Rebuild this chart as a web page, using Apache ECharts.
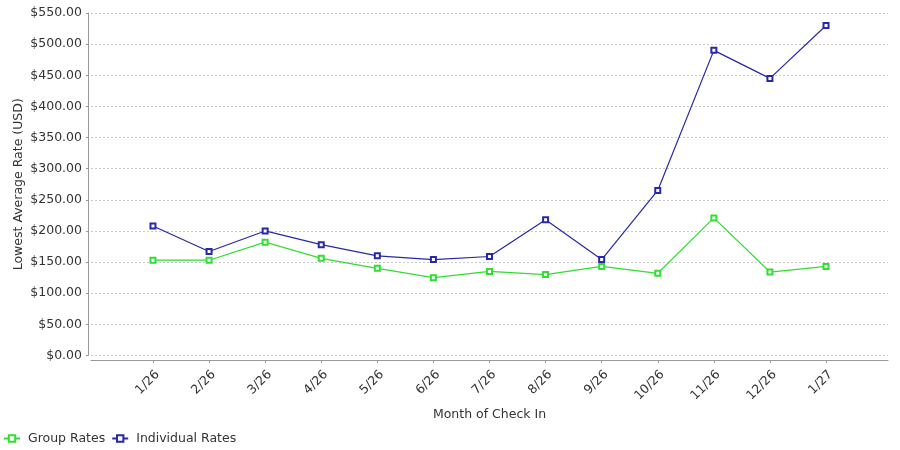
<!DOCTYPE html>
<html>
<head>
<meta charset="utf-8">
<title>Lowest Average Rate</title>
<script src="https://cdn.jsdelivr.net/npm/echarts@6/dist/echarts.min.js"></script>
<style>
  html, body { margin: 0; padding: 0; background: #fff; }
  #chart { width: 900px; height: 450px; }
</style>
</head>
<body>
<div id="chart"></div>
<script>
// values
var months = ['1/26', '2/26', '3/26', '4/26', '5/26', '6/26', '7/26',
              '8/26', '9/26', '10/26', '11/26', '12/26', '1/27'];
var groupRates = [153, 153, 182, 156, 140, 125, 135, 130, 143, 132, 221, 134, 143];
var individualRates = [208, 167, 200, 178, 160, 154, 159, 218, 154, 265, 490, 445, 530];
var yTicks = [0, 550, 50]; // min, max, step

var FONT = '"DejaVu Sans", sans-serif';
var TEXT = '#333';
var PAD = 1.105; // empty space each side of the categories (in category units)

function toPoints(values) {
    return values.map(function(v, i){ return [i, v]; });
}

var idx = months.map(function(m, i){ return i; });

var chart = echarts.init(document.getElementById('chart'), null, { renderer: 'canvas' });

chart.setOption({
    animation: false,
    grid: { left: 91, right: 12, top: 13, bottom: 94.5, containLabel: false },
    legend: {
        left: 3,
        top: 432,
        padding: 0,
        itemWidth: 16,
        itemHeight: 8,
        itemGap: 6,
        textStyle: { fontFamily: FONT, fontSize: 12.5, color: TEXT, padding: [0, 0, 0, 3] },
        data: ['Group Rates', 'Individual Rates']
    },
    xAxis: {
        type: 'value',
        min: -PAD,
        max: months.length - 1 + PAD,
        offset: 4.5,
        name: 'Month of Check In',
        nameLocation: 'middle',
        nameGap: 48,
        nameMoveOverlap: false,
        nameTextStyle: { fontFamily: FONT, fontSize: 12.5, color: TEXT },
        axisLine: { show: true, onZero: false, lineStyle: { color: '#999' } },
        axisTick: { show: true, length: 3, customValues: idx, lineStyle: { color: '#999' } },
        axisLabel: {
            customValues: idx,
            rotate: 45,
            margin: 8,
            verticalAlign: 'top',
            fontFamily: FONT,
            fontSize: 12.5,
            color: TEXT,
            formatter: function(v){ return months[Math.round(v)]; }
        },
        splitLine: { show: false }
    },
    yAxis: {
        type: 'value',
        min: yTicks[0],
        max: yTicks[1],
        interval: yTicks[2],
        offset: 3,
        name: 'Lowest Average Rate (USD)',
        nameLocation: 'middle',
        nameGap: 63,
        nameMoveOverlap: false,
        nameTextStyle: { fontFamily: FONT, fontSize: 12.5, color: TEXT },
        axisLine: { show: true, onZero: false, lineStyle: { color: '#999' } },
        axisTick: { show: true, length: 2, lineStyle: { color: '#999' } },
        axisLabel: {
            margin: 6,
            fontFamily: FONT,
            fontSize: 12.5,
            color: TEXT,
            formatter: function(v){ return '$' + v.toFixed(2); }
        },
        splitLine: { show: true, lineStyle: { color: '#c8c8c8', type: [2, 2], width: 1 } }
    },
    series: [
        {
            name: 'Group Rates',
            type: 'line',
            data: toPoints(groupRates),
            symbol: 'emptyRect',
            symbolSize: 5,
            color: '#33dd33',
            lineStyle: { width: 1.2, color: '#33dd33' },
            itemStyle: { color: '#33dd33', borderWidth: 1 }
        },
        {
            name: 'Individual Rates',
            type: 'line',
            data: toPoints(individualRates),
            symbol: 'emptyRect',
            symbolSize: 5,
            color: '#2828a8',
            lineStyle: { width: 1.2, color: '#2828a8' },
            itemStyle: { color: '#2828a8', borderWidth: 1 }
        }
    ]
});
</script>
</body>
</html>
